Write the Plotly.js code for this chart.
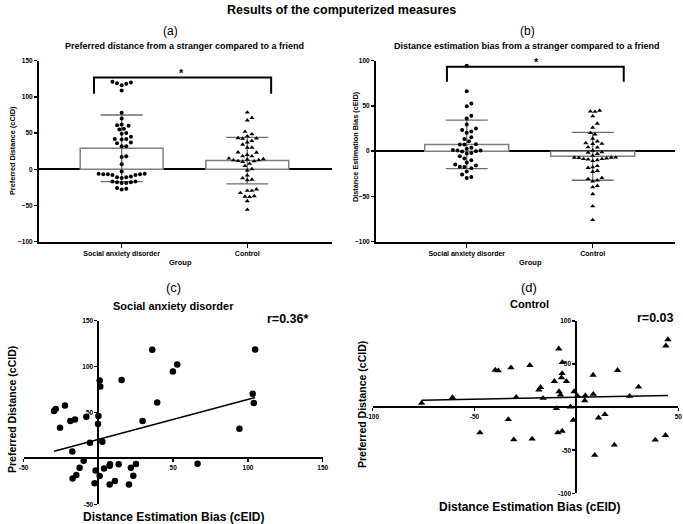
<!DOCTYPE html>
<html>
<head>
<meta charset="utf-8">
<script src="https://cdn.plot.ly/plotly-3.0.1.min.js"></script>
<style>html,body{margin:0;padding:0;background:#fff;}#chart{width:683px;height:524px;}</style>
</head>
<body>
<div id="chart"></div>
<script>
// ---------------- DATA ----------------
const groups = ['Social anxiety disorder', 'Control'];

// Panel (a): preferred distance (cCID)
const prefMean = [29, 12];
const prefSD = [46, 32];
const sadPrefA = [120, 118, 121, 116, 119, 109, 78, 70, 61, 60, 62, 56, 55, 50, 49, 45, 42, 42, 41, 37, 36, 32, 32, 18, 17, 7, -3,
  -6, -7, -8, -7, -6, -8, -7, -10, -11, -12, -11, -17, -18, -19, -18, -17, -19, -26, -27, -28];

// Panel (b): distance estimation bias (cEID)
const biasMean = [7.5, -5.7];
const biasSD = [26.8, 26.4];

// Panel (c): SAD scatter (x = cEID, y = cCID)
const sadBias = [-29.7, -28.6, -22.4, -25.7, -18.8, -15.7, -17.5, -8.1, -5.7, 0, -0.3, 0.8, 1.2, 2.6, 15.5, 29.5, 36, 39.3, 49.8, 52.7, 94.3, 103.2, 103.9, 104.8,
  -9.9, -12.6, -14.8, -17.3, -1.9, -2.6, 0.8, 3.7, 7.5, 7.7, 7.5, 11, 13.5, 20.4, 21.7, 23.3, 25.1, 66.3];
const sadPref = [51.5, 53.7, 57.7, 33.4, 40.7, 42.5, 7.6, 45.4, 17.1, 46.1, 37.4, 84.9, 78.4, 18.1, 85.3, 40.7, 118.3, 61, 94.7, 102.4, 32.3, 70.4, 60.3, 118.7,
  -2.5, -10.2, -18.1, -21.8, -13.1, -27.2, -19.2, -10.9, -8, -6.5, -28.3, -24.7, -6.5, -28.3, -10.2, -18.9, -6.2, -5.8];

// Panel (d): Control scatter (x = cEID, y = cCID)
const ctlBias = [-75.9, -60.8, -39.8, -38.3, -32.1, -29.5, -22.8, -18.4, -17.6, -16.3, -10.8, -8.6, -8.5, -7.8, -7.3, -7, -6.9, -4.9, -1.1, 0.7, 4.4, 4.1, 8.2, 8.3, 20.2, 26.1, 30.5, 43.9, 44.9,
  -9.8, -2.9, -33.4, -47.3, -30.7, -21.7, -9.1, -7, -1.5, 10.9, 14, 9, 18.6, 38.7, 43.7];
const ctlPref = [4.6, 11.2, 43.1, 42.3, 45.8, 11.5, 48.5, 20, 23.1, 10.4, 30, 67.7, 18.1, 14.2, 34.2, 39.2, 51.9, 30, 18.1, 12.7, 13.5, 7.7, 37.3, 15, 42.7, 12.7, 23.5, 71.2, 78.5,
  -1.5, 0.4, -14.2, -29.6, -37.7, -36.9, -29.6, -27.7, -15, -12.3, -8.5, -55.8, -43.8, -38.1, -32.7];

const prefTicks = [-100, -50, 0, 50, 100, 150];
const biasTicks = [-100, -50, 0, 50, 100];
const cXTicks = [-50, 0, 50, 100, 150];
const cYTicks = [-50, 0, 50, 100, 150];
const dXTicks = [-100, -50, 0, 50];
const dYTicks = [-100, -50, 0, 50, 100];
const minorStep = 10;

// significance bracket levels (data units)
const bracketA = {x0: -0.22, x1: 1.19, top: 126.7, bottom: 104.5, starY: 133};
const bracketB = {x0: -0.157, x1: 1.246, top: 93.4, bottom: 76.7, starY: 99};

// ---------------- LAYOUT GEOMETRY ----------------
const W = 683, H = 524;
const FONT = 'Liberation Sans, Arial, sans-serif';
const px = v => v / W;
const py = v => 1 - v / H;

const A = {x0: 39, x1: 331.7, y0: 60.7, y1: 241.7, xr: [-0.658, 1.672], yr: [-100, 150]};
const B = {x0: 376, x1: 675, y0: 60.7, y1: 241.7, xr: [-0.72, 1.653], yr: [-100, 100]};
const C = {x0: 23.7, x1: 322.7, y0: 320.7, y1: 504.3, xr: [-50, 150], yr: [-50, 150]};
const D = {x0: 372.5, x1: 678.3, y0: 321, y1: 493.3, xr: [-100, 50], yr: [-100, 100]};

function scale(P) {
  return {
    xpx: (P.x1 - P.x0) / (P.xr[1] - P.xr[0]),
    ypx: (P.y1 - P.y0) / (P.yr[1] - P.yr[0])
  };
}

function swarm(vals, P, d) {
  const s = scale(P);
  const order = vals.map((v, i) => i).sort((a, b) => vals[a] - vals[b]);
  const placed = [];
  const off = new Array(vals.length).fill(0);
  order.forEach(i => {
    const y = vals[i] * s.ypx;
    for (let k = 0; k < 80; k++) {
      const m = k === 0 ? 0 : (k % 2 ? (k + 1) / 2 : -k / 2);
      const x = m * d * 0.5;
      let ok = true;
      for (const p of placed) {
        if (Math.hypot(p.x - x, p.y - y) < d) { ok = false; break; }
      }
      if (ok) { placed.push({x, y}); off[i] = x / s.xpx; break; }
    }
  });
  return off;
}

function fit(xs, ys) {
  const n = xs.length;
  const mx = xs.reduce((a, b) => a + b, 0) / n;
  const my = ys.reduce((a, b) => a + b, 0) / n;
  let sxy = 0, sxx = 0;
  for (let i = 0; i < n; i++) { sxy += (xs[i] - mx) * (ys[i] - my); sxx += (xs[i] - mx) ** 2; }
  const b = sxy / sxx;
  const a = my - b * mx;
  const lo = Math.min(...xs), hi = Math.max(...xs);
  return {x: [lo, hi], y: [a + b * lo, a + b * hi]};
}

// ---------------- TRACES ----------------
const ctlPrefA = ctlPref;
const sadBiasB = sadBias;
const ctlBiasB = ctlBias;

const offA0 = swarm(sadPrefA, A, 4.6);
const offA1 = swarm(ctlPrefA, A, 4.6);
const offB0 = swarm(sadBiasB, B, 4.6);
const offB1 = swarm(ctlBiasB, B, 4.6);

const barStyle = {color: '#ffffff', line: {color: '#7f7f7f', width: 1.5}};
const errStyle = (arr) => ({type: 'data', array: arr, visible: true, color: '#6e6e6e', thickness: 1.3, width: 21});

const fitC = fit(sadBias, sadPref);
const fitD = fit(ctlBias, ctlPref);

const traces = [
  {type: 'bar', x: [0, 1], y: prefMean, width: 0.66, marker: barStyle, error_y: errStyle(prefSD), xaxis: 'x', yaxis: 'y', hoverinfo: 'skip'},
  {type: 'scatter', mode: 'markers', x: sadPrefA.map((v, i) => 0 + offA0[i]), y: sadPrefA, marker: {size: 4, color: '#000', symbol: 'circle'}, xaxis: 'x', yaxis: 'y'},
  {type: 'scatter', mode: 'markers', x: ctlPrefA.map((v, i) => 1 + offA1[i]), y: ctlPrefA, marker: {size: 4.5, color: '#000', symbol: 'triangle-up'}, xaxis: 'x', yaxis: 'y'},

  {type: 'bar', x: [0, 1], y: biasMean, width: 0.667, marker: barStyle, error_y: errStyle(biasSD), xaxis: 'x2', yaxis: 'y2', hoverinfo: 'skip'},
  {type: 'scatter', mode: 'markers', x: sadBiasB.map((v, i) => 0 + offB0[i]), y: sadBiasB, marker: {size: 4, color: '#000', symbol: 'circle'}, xaxis: 'x2', yaxis: 'y2'},
  {type: 'scatter', mode: 'markers', x: ctlBiasB.map((v, i) => 1 + offB1[i]), y: ctlBiasB, marker: {size: 4.5, color: '#000', symbol: 'triangle-up'}, xaxis: 'x2', yaxis: 'y2'},

  {type: 'scatter', mode: 'lines', x: fitC.x, y: fitC.y, line: {color: '#000', width: 1.5}, xaxis: 'x3', yaxis: 'y3'},
  {type: 'scatter', mode: 'markers', x: sadBias, y: sadPref, marker: {size: 6.5, color: '#000', symbol: 'circle'}, xaxis: 'x3', yaxis: 'y3'},

  {type: 'scatter', mode: 'lines', x: fitD.x, y: fitD.y, line: {color: '#000', width: 1.5}, xaxis: 'x4', yaxis: 'y4'},
  {type: 'scatter', mode: 'markers', x: ctlBias, y: ctlPref, marker: {size: 6.5, color: '#000', symbol: 'triangle-up'}, xaxis: 'x4', yaxis: 'y4'}
];

// ---------------- AXES ----------------
const tf = (s) => ({family: FONT, size: s, color: '#000', weight: 'bold'});

function catX(P, anchor) {
  return {domain: [px(P.x0), px(P.x1)], range: P.xr, anchor: anchor, tickmode: 'array', tickvals: [0, 1], ticktext: groups,
    ticks: 'outside', ticklen: 4, tickwidth: 1.5, tickcolor: '#000', showline: true, linewidth: 2, linecolor: '#000',
    showgrid: false, zeroline: false, tickfont: tf(7), fixedrange: true};
}
function valY(P, anchor, ticks) {
  return {domain: [py(P.y1), py(P.y0)], range: P.yr, anchor: anchor, tickmode: 'array', tickvals: ticks,
    ticks: 'outside', ticklen: 3, tickwidth: 1.5, tickcolor: '#000', showline: true, linewidth: 2, linecolor: '#000',
    showgrid: false, zeroline: true, zerolinecolor: '#000', zerolinewidth: 2, tickfont: tf(6.5), fixedrange: true};
}
function crossX(P, ticks, ypos) {
  return {domain: [px(P.x0), px(P.x1)], range: P.xr, anchor: 'free', position: ypos, tickmode: 'array', tickvals: ticks,
    ticktext: ticks.map(t => t === 0 ? '' : String(t)),
    ticks: 'outside', ticklen: 3, tickwidth: 1.5, tickcolor: '#000', showline: true, linewidth: 2, linecolor: '#000',
    showgrid: false, zeroline: false, tickfont: tf(6.5), fixedrange: true};
}
function crossY(P, ticks, xpos) {
  return {domain: [py(P.y1), py(P.y0)], range: P.yr, anchor: 'free', position: xpos, tickmode: 'array', tickvals: ticks,
    ticktext: ticks.map(t => t === 0 ? '' : String(t)),
    ticks: 'outside', ticklen: 3, tickwidth: 1.5, tickcolor: '#000', showline: true, linewidth: 2, linecolor: '#000',
    showgrid: false, zeroline: false, tickfont: tf(6.5), fixedrange: true};
}
// overlay axis that only draws the small intermediate ticks
function minorAxis(base, over, extra) {
  return Object.assign({domain: base.domain, range: base.range, overlaying: over, tickmode: 'linear', tick0: 0, dtick: minorStep,
    ticks: 'outside', ticklen: 2, tickwidth: 1, tickcolor: '#000', showticklabels: false, showline: false, showgrid: false,
    zeroline: false, fixedrange: true}, extra);
}

const sC = scale(C), sD = scale(D);
const cZeroY = C.y1 - (0 - C.yr[0]) * sC.ypx;
const cZeroX = C.x0 + (0 - C.xr[0]) * sC.xpx;
const dZeroY = D.y1 - (0 - D.yr[0]) * sD.ypx;
const dZeroX = D.x0 + (0 - D.xr[0]) * sD.xpx;

const xa1 = catX(A, 'y'), ya1 = valY(A, 'x', prefTicks);
const xa2 = catX(B, 'y2'), ya2 = valY(B, 'x2', biasTicks);
const xa3 = crossX(C, cXTicks, py(cZeroY)), ya3 = crossY(C, cYTicks, px(cZeroX));
const xa4 = crossX(D, dXTicks, py(dZeroY)), ya4 = crossY(D, dYTicks, px(dZeroX));

function bracketPath(b) {
  return `M ${b.x0},${b.bottom} L ${b.x0},${b.top} L ${b.x1},${b.top} L ${b.x1},${b.bottom}`;
}

const ann = (text, x, y, size, opts = {}) => Object.assign({
  text: text, x: x, y: y, xref: 'paper', yref: 'paper', showarrow: false, xanchor: 'center', yanchor: 'middle',
  font: {family: FONT, size: size, color: '#000'}
}, opts);

const layout = {
  width: W, height: H,
  margin: {l: 0, r: 0, t: 0, b: 0, pad: 0},
  paper_bgcolor: '#fff', plot_bgcolor: 'rgba(0,0,0,0)',
  showlegend: false,
  bargap: 0,
  xaxis: xa1, yaxis: ya1,
  xaxis2: xa2, yaxis2: ya2,
  xaxis3: xa3, yaxis3: ya3,
  xaxis4: xa4, yaxis4: ya4,
  yaxis5: minorAxis(ya1, 'y', {anchor: 'x', side: 'left'}),
  yaxis6: minorAxis(ya2, 'y2', {anchor: 'x2', side: 'left'}),
  xaxis7: minorAxis(xa3, 'x3', {anchor: 'free', position: xa3.position, side: 'bottom'}),
  yaxis7: minorAxis(ya3, 'y3', {anchor: 'free', position: ya3.position, side: 'left'}),
  xaxis8: minorAxis(xa4, 'x4', {anchor: 'free', position: xa4.position, side: 'bottom'}),
  yaxis8: minorAxis(ya4, 'y4', {anchor: 'free', position: ya4.position, side: 'left'}),
  shapes: [
    {type: 'path', xref: 'x', yref: 'y', path: bracketPath(bracketA), line: {color: '#000', width: 2}},
    {type: 'path', xref: 'x2', yref: 'y2', path: bracketPath(bracketB), line: {color: '#000', width: 2}}
  ],
  annotations: [
    ann('<b>Results of the computerized measures</b>', 0.5, py(10), 12.5),
    ann('(a)', px(170), py(31), 12),
    ann('(b)', px(527), py(31), 12),
    ann('<b>Preferred distance from a stranger compared to a friend</b>', px(184), py(46), 9),
    ann('<b>Distance estimation bias from a stranger compared to a friend</b>', px(527), py(46), 9),
    ann('<b>Group</b>', px(180), py(262), 7.5),
    ann('<b>Group</b>', px(530), py(262), 7.5),
    ann('<b>Preferred Distance (cCID)</b>', px(13), py(151), 7.3, {textangle: -90}),
    ann('<b>Distance Estimation Bias (cEID)</b>', px(355.5), py(146.5), 7.3, {textangle: -90}),
    {text: '<b>*</b>', x: 0.48, y: bracketA.starY, xref: 'x', yref: 'y', showarrow: false, font: {family: FONT, size: 11, color: '#000'}},
    {text: '<b>*</b>', x: 0.55, y: bracketB.starY, xref: 'x2', yref: 'y2', showarrow: false, font: {family: FONT, size: 11, color: '#000'}},

    ann('(c)', px(173), py(287), 13),
    ann('(d)', px(529), py(287), 13),
    ann('<b>Social anxiety disorder</b>', px(173), py(306), 11),
    ann('<b>Control</b>', px(529), py(304), 11),
    ann('<b>r=0.36*</b>', px(287), py(319), 12.5),
    ann('<b>r=0.03</b>', px(655), py(318), 12.5),
    ann('<b>Distance Estimation Bias (cEID)</b>', px(173), py(517), 12),
    ann('<b>Distance Estimation Bias (cEID)</b>', px(529), py(507), 12),
    ann('<b>Preferred Distance (cCID)</b>', px(12), py(410), 10.5, {textangle: -90}),
    ann('<b>Preferred Distance (cCID)</b>', px(362), py(405), 10.5, {textangle: -90})
  ]
};

Plotly.newPlot('chart', traces, layout, {staticPlot: true, displayModeBar: false});
</script>
</body>
</html>
